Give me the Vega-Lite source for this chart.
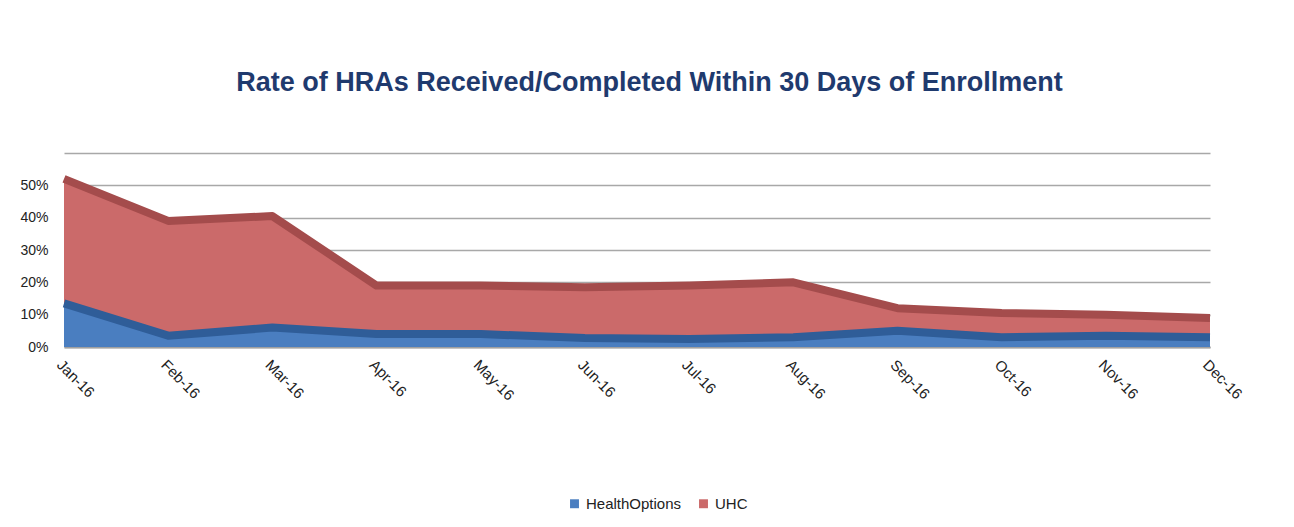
{
  "$schema": "https://vega.github.io/schema/vega-lite/v6.json",
  "autosize": "none",
  "width": 1175,
  "height": 194,
  "padding": {"left": 62, "top": 153, "right": 57, "bottom": 180},
  "background": "white",
  "config": {"view": {"stroke": null}, "font": "Liberation Sans"},
  "title": {
    "text": "Rate of HRAs Received/Completed Within 30 Days of Enrollment",
    "font": "Liberation Sans Narrow, Liberation Sans",
    "fontSize": 27,
    "fontWeight": "bold",
    "color": "#1F3A6E",
    "anchor": "middle",
    "offset": 56
  },
  "data": {
    "values": [
      {"month": "Jan-16", "series": "UHC", "value": 0.52},
      {"month": "Feb-16", "series": "UHC", "value": 0.39},
      {"month": "Mar-16", "series": "UHC", "value": 0.405},
      {"month": "Apr-16", "series": "UHC", "value": 0.19},
      {"month": "May-16", "series": "UHC", "value": 0.19},
      {"month": "Jun-16", "series": "UHC", "value": 0.185},
      {"month": "Jul-16", "series": "UHC", "value": 0.19},
      {"month": "Aug-16", "series": "UHC", "value": 0.2},
      {"month": "Sep-16", "series": "UHC", "value": 0.12},
      {"month": "Oct-16", "series": "UHC", "value": 0.105},
      {"month": "Nov-16", "series": "UHC", "value": 0.1},
      {"month": "Dec-16", "series": "UHC", "value": 0.09},
      {"month": "Jan-16", "series": "HealthOptions", "value": 0.135},
      {"month": "Feb-16", "series": "HealthOptions", "value": 0.035},
      {"month": "Mar-16", "series": "HealthOptions", "value": 0.06},
      {"month": "Apr-16", "series": "HealthOptions", "value": 0.04},
      {"month": "May-16", "series": "HealthOptions", "value": 0.04},
      {"month": "Jun-16", "series": "HealthOptions", "value": 0.028},
      {"month": "Jul-16", "series": "HealthOptions", "value": 0.025},
      {"month": "Aug-16", "series": "HealthOptions", "value": 0.03},
      {"month": "Sep-16", "series": "HealthOptions", "value": 0.05},
      {"month": "Oct-16", "series": "HealthOptions", "value": 0.03},
      {"month": "Nov-16", "series": "HealthOptions", "value": 0.035},
      {"month": "Dec-16", "series": "HealthOptions", "value": 0.03}
    ]
  },
  "encoding": {
    "x": {
      "field": "month",
      "type": "ordinal",
      "sort": ["Jan-16","Feb-16","Mar-16","Apr-16","May-16","Jun-16","Jul-16","Aug-16","Sep-16","Oct-16","Nov-16","Dec-16"],
      "scale": {"type": "point", "range": [2, 1148], "padding": 0},
      "axis": {
        "title": null,
        "labelAngle": 45,
        "labelFontSize": 15,
        "labelColor": "#222222",
        "labelPadding": 10,
        "ticks": false,
        "domainColor": "#A0A0A0",
        "domainWidth": 2,
        "grid": false
      }
    },
    "y": {
      "field": "value",
      "type": "quantitative",
      "scale": {"domain": [0, 0.6], "nice": false},
      "axis": {
        "title": null,
        "values": [0, 0.1, 0.2, 0.3, 0.4, 0.5, 0.6],
        "format": ".0%",
        "labelExpr": "datum.value >= 0.59 ? '' : datum.label",
        "labelFontSize": 14,
        "labelColor": "#222222",
        "labelPadding": 14,
        "ticks": false,
        "domain": false,
        "grid": true,
        "gridColor": "#A8A8A8",
        "gridWidth": 1.5
      }
    }
  },
  "layer": [
    {
      "transform": [{"filter": "datum.series === 'UHC'"}],
      "mark": {"type": "area", "opacity": 1},
      "encoding": {
        "color": {
          "field": "series",
          "type": "nominal",
          "scale": {"domain": ["HealthOptions", "UHC"], "range": ["#4A7EC0", "#CB6A6A"]},
          "legend": {
            "title": null,
            "orient": "none",
            "legendX": 505,
            "legendY": 343,
            "direction": "horizontal",
            "symbolType": "square",
            "symbolSize": 80,
            "labelFontSize": 15,
            "labelColor": "#222222",
            "columnPadding": 14
          }
        }
      }
    },
    {
      "transform": [{"filter": "datum.series === 'UHC'"}],
      "mark": {"type": "line", "color": "#A44C4C", "strokeWidth": 8, "strokeJoin": "round"},
      "encoding": {}
    },
    {
      "transform": [{"filter": "datum.series === 'HealthOptions'"}],
      "mark": {"type": "area", "opacity": 1},
      "encoding": {
        "color": {"field": "series", "type": "nominal"}
      }
    },
    {
      "transform": [{"filter": "datum.series === 'HealthOptions'"}],
      "mark": {"type": "line", "color": "#2F5D98", "strokeWidth": 8, "strokeJoin": "round"},
      "encoding": {}
    }
  ]
}
